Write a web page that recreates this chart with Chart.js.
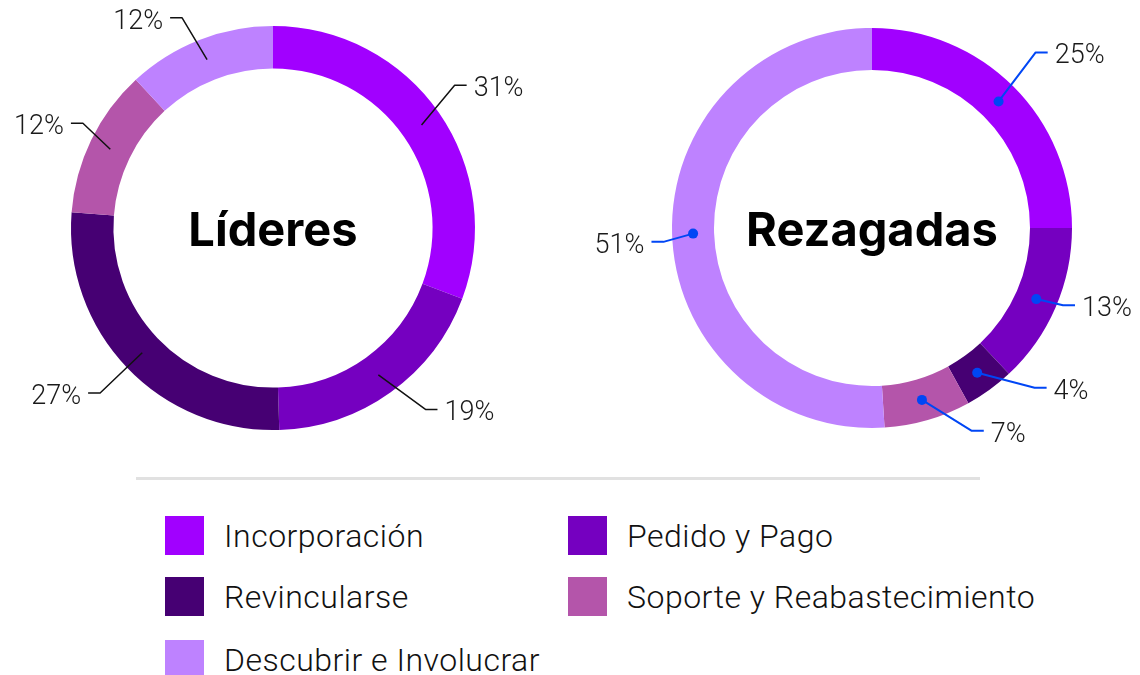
<!DOCTYPE html>
<html>
<head>
<meta charset="utf-8">
<script src="https://cdn.jsdelivr.net/npm/chart.js@4"></script>
<style>
  html, body { margin: 0; padding: 0; background: #fff; }
  body { width: 1140px; height: 675px; position: relative; overflow: hidden; font-family: Roboto, sans-serif; }
  .box { position: absolute; top: 0; width: 560px; height: 460px; }
  #box-left { left: 0; }
  #box-right { left: 580px; }
  .rule { position: absolute; left: 136px; top: 477px; width: 844px; height: 3px; background: #e1e1e1; }
  .legend-item { position: absolute; display: flex; align-items: center; height: 39px; font-weight: 300; font-size: 32px; letter-spacing: 0.5px; color: #111; white-space: nowrap; }
  .legend-item span.sw { width: 39px; height: 39px; margin-right: 20px; flex: none; }
</style>
</head>
<body>
<div class="box" id="box-left"><canvas id="lideres"></canvas></div>
<div class="box" id="box-right"><canvas id="rezagadas"></canvas></div>
<div class="rule"></div>
<div id="legend"></div>

<script>
// datos
const categorias = ['Incorporación', 'Pedido y Pago', 'Revincularse', 'Soporte y Reabastecimiento', 'Descubrir e Involucrar'];
const lideres = [31, 19, 27, 12, 12];
const rezagadas = [25, 13, 4, 7, 51];
const colores = ['#a100ff', '#7500c0', '#460073', '#b455aa', '#be82ff'];

// posición de las etiquetas (ajuste de ángulo en grados y distancia fuera del anillo)
const lideresNudge = [-3.4, -4.4, 0, 3, -2];
const lideresReach = [29, 35, 37, 15, 27];
const rezagadasNudge = [-2, -1.4, -9.5, -10, -2];
const rezagadasReach = [40, 6, 28, 26, 9];

// etiquetas con líneas guía
const leaderPlugin = {
    id: 'leaders',
    afterDatasetsDraw(chart, args, opts) {
        const ctx = chart.ctx;
        const meta = chart.getDatasetMeta(0);
        const values = chart.data.datasets[0].data;
        ctx.save();
        meta.data.forEach((arc, i) => {
            const p = arc.getProps(['x', 'y', 'startAngle', 'endAngle', 'innerRadius', 'outerRadius'], true);
            const mid = (p.startAngle + p.endAngle) / 2;
            const rMid = (p.innerRadius + p.outerRadius) / 2;
            const ax = p.x + Math.cos(mid) * rMid;
            const ay = p.y + Math.sin(mid) * rMid;
            const ea = mid + opts.nudge[i] * Math.PI / 180;
            const er = p.outerRadius + opts.reach[i];
            const ex = p.x + Math.cos(ea) * er;
            const ey = p.y + Math.sin(ea) * er;
            const right = ex > p.x;
            const hx = ex + (right ? 12 : -12);

            ctx.strokeStyle = opts.color;
            ctx.lineWidth = opts.width;
            ctx.lineJoin = 'round';
            ctx.beginPath();
            ctx.moveTo(ax, ay);
            ctx.lineTo(ex, ey);
            ctx.lineTo(hx, ey);
            ctx.stroke();

            if (opts.dot) {
                ctx.fillStyle = opts.color;
                ctx.beginPath();
                ctx.arc(ax, ay, 5, 0, Math.PI * 2);
                ctx.fill();
            }

            ctx.fillStyle = '#1a1a1a';
            ctx.font = '300 27px Roboto';
            ctx.textBaseline = 'middle';
            ctx.textAlign = right ? 'left' : 'right';
            ctx.fillText(values[i] + '%', hx + (right ? 7 : -7), ey + 4);
        });
        ctx.restore();
    }
};

// título en el centro
const centerPlugin = {
    id: 'centerTitle',
    afterDraw(chart, args, opts) {
        const arc = chart.getDatasetMeta(0).data[0];
        const ctx = chart.ctx;
        ctx.save();
        ctx.fillStyle = '#000';
        ctx.font = '700 47px Inter';
        ctx.textAlign = 'center';
        ctx.textBaseline = 'alphabetic';
        ctx.fillText(opts.text, arc.x, arc.y + 18);
        ctx.restore();
    }
};

function makeDonut(id, values, title, padding, leaders) {
    new Chart(document.getElementById(id), {
        type: 'doughnut',
        data: {
            labels: categorias,
            datasets: [{
                data: values,
                backgroundColor: colores,
                borderWidth: 0
            }]
        },
        options: {
            responsive: true,
            maintainAspectRatio: false,
            animation: false,
            cutout: '79%',
            layout: { padding: padding },
            events: [],
            plugins: {
                legend: { display: false },
                tooltip: { enabled: false },
                leaders: leaders,
                centerTitle: { text: title }
            }
        },
        plugins: [leaderPlugin, centerPlugin]
    });
}

makeDonut('lideres', lideres, 'Líderes',
    { left: 71, top: 26, right: 85, bottom: 30 },
    { nudge: lideresNudge, reach: lideresReach, color: '#111', width: 1.5, dot: false });

makeDonut('rezagadas', rezagadas, 'Rezagadas',
    { left: 92, top: 28, right: 68, bottom: 32 },
    { nudge: rezagadasNudge, reach: rezagadasReach, color: '#0046f5', width: 2, dot: true });

// leyenda
const legendPos = [[165, 516], [568, 516], [165, 577], [568, 577], [165, 640]];
document.getElementById('legend').innerHTML = categorias.map((c, k) => `
    <div class="legend-item" style="left:${legendPos[k][0]}px; top:${legendPos[k][1]}px">
        <span class="sw" style="background:${colores[k]}"></span>${c}
    </div>
`).join('');
</script>
</body>
</html>
